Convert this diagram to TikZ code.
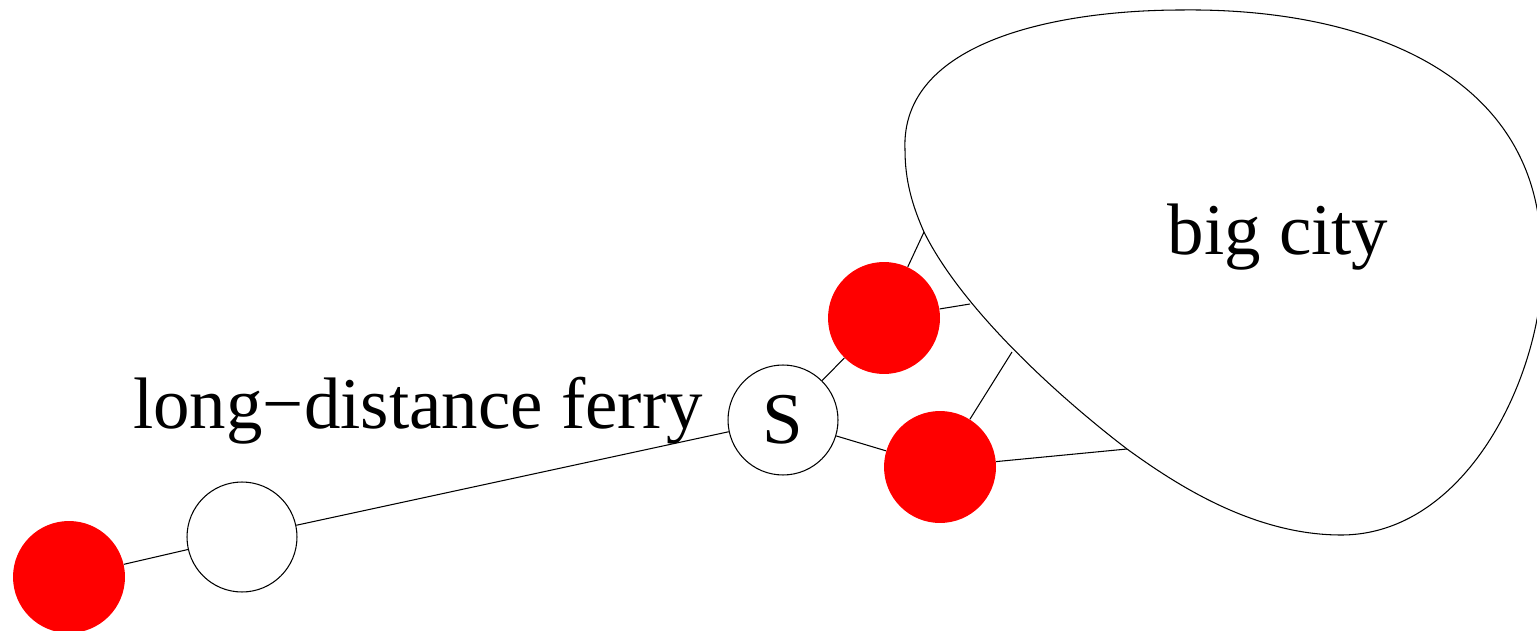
\documentclass[tikz,border=0pt]{standalone}
\usepackage{fontspec}
\setmainfont{Liberation Serif}
\tikzset{
  big/.style={font=\fontsize{41.5}{50}\selectfont},
  redc/.style={circle, fill=red, draw=none, minimum size=2.24cm, inner sep=0pt},
  whitec/.style={circle, draw=black, line width=0.6pt, fill=white, minimum size=2.2cm, inner sep=0pt},
  conn/.style={draw=black, line width=0.6pt},
}
\begin{document}
\begin{tikzpicture}[x=0.02cm, y=-0.02cm]
\useasboundingbox (0,0) rectangle (1537,631);
\clip (0,0) rectangle (1537,631);
% big city blob
\coordinate (c1) at (924,232);
\coordinate (c2) at (970,304);
\coordinate (c3) at (1012,352);
\coordinate (c4) at (1127,449);
\draw[line width=0.6pt, fill=white]
  (905,150) .. controls (900,40) and (1060,10) .. (1182,10)
  .. controls (1360,8) and (1525,70) .. (1540,230)
  .. controls (1558,340) and (1480,535) .. (1341,535)
  .. controls (1250,535) and (1170,480) .. (c4)
  .. controls (1050,390) and (960,305) .. (c1)
  .. controls (912,205) and (905,180) .. cycle;
\node[big, anchor=base] (citylabel) at (1278,255) {big city};
\node[big, anchor=base] (ferrylabel) at (418,428) {long−distance ferry};
% nodes
\node[redc] (r0) at (69,577) {};
\node[whitec] (w) at (242,537) {};
\node[whitec, big] (s) at (783,420) {S};
\node[redc] (r1) at (884,318) {};
\node[redc] (r2) at (940,467) {};
% connectors
\draw[conn] (r0) -- (w);
\draw[conn] (w) -- (s);
\draw[conn] (s) -- (r1);
\draw[conn] (s) -- (r2);
\draw[conn] (r1) -- (c1);
\draw[conn] (r1) -- (c2);
\draw[conn] (r2) -- (c3);
\draw[conn] (r2) -- (c4);
\end{tikzpicture}
\end{document}
